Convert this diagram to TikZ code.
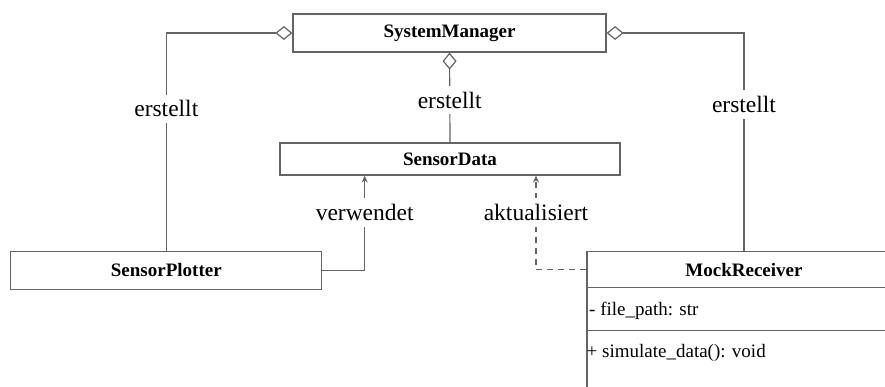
\documentclass[tikz,border=0pt]{standalone}
\usepackage{fontspec}
\setmainfont{Liberation Serif}
\usetikzlibrary{arrows.meta,calc}
\definecolor{linegray}{RGB}{100,100,100}
\tikzset{
  cls/.style={draw=linegray, line width=1.2pt, fill=white, inner sep=0pt,
    font=\fontsize{19}{22}\selectfont\bfseries},
  compartment/.style={draw=linegray, line width=1.2pt, fill=white, inner sep=0pt},
  member/.style={anchor=west, inner sep=0pt, font=\fontsize{19}{22}\selectfont},
  lbl/.style={fill=white, inner sep=6pt, font=\fontsize{23.5}{26}\selectfont},
  conn/.style={draw=linegray, line width=1.2pt},
  agg/.style={conn, {Diamond[open,length=17pt,width=14pt]}-},
  uses/.style={conn, -{Stealth[length=7pt,width=6pt]}},
  updates/.style={uses, dash pattern=on 6pt off 5pt},
}
\begin{document}
\begin{tikzpicture}[x=1pt, y=-1pt]
  \useasboundingbox (0,0) rectangle (885,387);

  % classes
  \node[cls, minimum width=313pt, minimum height=38pt] (sm) at (449.5,33) {SystemManager};
  \node[cls, minimum width=340pt, minimum height=32pt] (sd) at (450,159) {SensorData};
  \node[cls, minimum width=311pt, minimum height=38pt] (sp) at (166.3,270.5) {SensorPlotter};

  % MockReceiver with its two compartments
  \node[compartment, minimum width=314pt, minimum height=43pt] (mrattr) at (744,309.2) {};
  \node[compartment, minimum width=314pt, minimum height=99.3pt] (mrops) at (744,380.35) {};
  \node[cls, minimum width=314pt, minimum height=36pt] (mr) at (744,269.7) {MockReceiver};
  \node[member] (attr) at (589,310.7) {- file\_path: str};
  \node[member] (op) at (586.5,353) {+ simulate\_data(): void};

  % attachment points on the bottom of SensorData
  \coordinate (sdA) at ($(sd.south west)!0.25!(sd.south east)$);
  \coordinate (sdB) at ($(sd.south west)!0.752!(sd.south east)$);

  % aggregations
  \draw[agg] (sm.west) -| node[lbl, pos=0.674] {erstellt} (sp.north);
  \draw[agg] (sm.south) -- node[lbl, pos=0.53] {erstellt} (sd.north);
  \draw[agg] (sm.east) -| node[lbl, pos=0.664] {erstellt} (mr.north);

  % dependencies
  \draw[uses] (sp.east) -| node[lbl, pos=0.805] {verwendet} (sdA);
  \draw[updates] (mr.west) -| node[lbl, pos=0.805] {aktualisiert} (sdB);
\end{tikzpicture}
\end{document}
